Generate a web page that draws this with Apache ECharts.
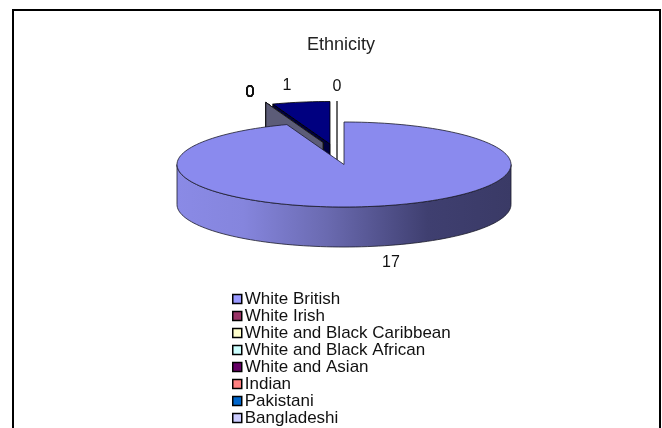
<!DOCTYPE html>
<html><head><meta charset="utf-8">
<style>html,body{margin:0;padding:0;background:#fff;overflow:hidden}#c{position:absolute;left:0;top:0;width:662px;height:428px}</style>
<script src="https://cdn.jsdelivr.net/npm/echarts@6/dist/echarts.min.js"></script>
</head><body><div id="c"></div>
<script>
const titleText = 'Ethnicity';
const categories = ['White British','White Irish','White and Black Caribbean','White and Black African','White and Asian','Indian','Pakistani','Bangladeshi','Other','Not stated'];
const values = [17,0,0,0,0,0,0,0,1,0];
const legendNames = categories.slice(0,8);
const colors = ['#9999ff','#993366','#ffffcc','#ccffff','#660066','#ff8080','#0066cc','#ccccff','#000080','#ffffff'];

const CX = 344, CY = 164.5, RX = 167, RY = 42.5, DEPTH = 40;
const total = values.reduce((a, b) => a + b, 0);
function cumulative(i){ let s = 0; for (let k = 0; k < i; k++) s += values[k]; return s; }
function pt(deg, off, dy){
  const r = deg * Math.PI / 180;
  return [CX + off[0] + RX * Math.sin(r), CY + off[1] - RY * Math.cos(r) + (dy || 0)];
}
function arc(a, b, off, dy){
  const n = Math.max(1, Math.ceil(Math.abs(b - a) / 2)), out = [];
  for (let k = 0; k <= n; k++) out.push(pt(a + (b - a) * k / n, off, dy));
  return out;
}
function offsetFor(i, start){
  if (i === 0) return [0, 0];
  if (values[i] > 0) return [-14, -20.5];
  if (start >= 360) return [-7, -21];
  return [-21, -22];
}
const line = {stroke: '#1a1a2a', lineWidth: 0.8};
function renderSlice(i){
  return function(params, api){
    const start = cumulative(i) / total * 360;
    const end = (cumulative(i) + values[i]) / total * 360;
    const off = offsetFor(i, start);
    const apex = [CX + off[0], CY + off[1]];
    const children = [];
    if (i === 0) {
      const front = arc(90, 270, off, 0);
      const wall = front.concat(arc(270, 90, off, DEPTH));
      children.push({type: 'polygon', shape: {points: wall}, style: Object.assign({
        fill: new echarts.graphic.LinearGradient(0, 0, 1, 0, [
          {offset: 0, color: '#8a8ae6'}, {offset: 0.2, color: '#8585dd'},
          {offset: 0.45, color: '#6a6ab0'}, {offset: 0.75, color: '#3f3f70'}, {offset: 1, color: '#3a3a66'}])
      }, line)});
      children.push({type: 'polygon', shape: {points: [apex].concat(arc(start, end, off))},
        style: Object.assign({fill: '#8a8aee'}, line)});
    } else if (values[i] > 0) {
      const e = pt(start, off);
      children.push({type: 'polygon', shape: {points: [apex, e, [e[0], e[1] + DEPTH], [apex[0], apex[1] + DEPTH]]},
        style: {fill: '#000040', stroke: '#000'}});
      children.push({type: 'polygon', shape: {points: [apex].concat(arc(start, end, off))},
        style: {fill: colors[i], stroke: '#000', lineWidth: 0.8}});
    } else {
      const e = pt(start, off);
      const isLast = start >= 360;
      children.push({type: 'polygon', shape: {points: [apex, e, [e[0], e[1] + DEPTH], [apex[0], apex[1] + DEPTH]]},
        style: {fill: isLast ? '#ffffff' : '#5c5c78', stroke: '#111', lineWidth: 0.8}});
    }
    const lp = i === 0 ? [391, 263]
      : values[i] > 0 ? [287, 86]
      : start >= 360 ? [337, 87] : [250, 93];
    children.push({type: 'text', style: {text: String(values[i]), x: lp[0], y: lp[1], align: 'center', verticalAlign: 'middle',
      font: '16px "Liberation Sans"', fill: '#111'}, z2: 50});
    return {type: 'group', children};
  };
}
const zOrder = [5,3,3,3,3,3,3,3,2,4];
const option = {
  animation: false,
  backgroundColor: '#fff',
  graphic: [{type: 'rect', shape: {x: 13, y: 10, width: 647, height: 440}, style: {fill: 'none', stroke: '#000', lineWidth: 2}, silent: true}],
  title: {text: titleText, left: 336, top: 31, textAlign: 'center',
    textStyle: {fontFamily: 'Liberation Sans', fontSize: 18, fontWeight: 'normal', color: '#222'}},
  legend: {orient: 'vertical', left: 232, top: 290.5, itemWidth: 9, itemHeight: 9, itemGap: 0, icon: 'rect', data: legendNames,
    selectedMode: false, padding: 0, height: 200, width: 300,
    itemStyle: {borderColor: '#000', borderWidth: 1.5},
    textStyle: {fontFamily: 'Liberation Sans', fontSize: 17, color: '#111', padding: [0,0,0,-2], lineHeight: 13, height: 13}},
  series: categories.map((name, i) => ({
    type: 'custom', name, coordinateSystem: 'none', z: zOrder[i], silent: true,
    itemStyle: {color: colors[i]}, data: [values[i]], renderItem: renderSlice(i)
  }))
};
echarts.init(document.getElementById('c'), null, {renderer: 'canvas'}).setOption(option);
</script></body></html>
